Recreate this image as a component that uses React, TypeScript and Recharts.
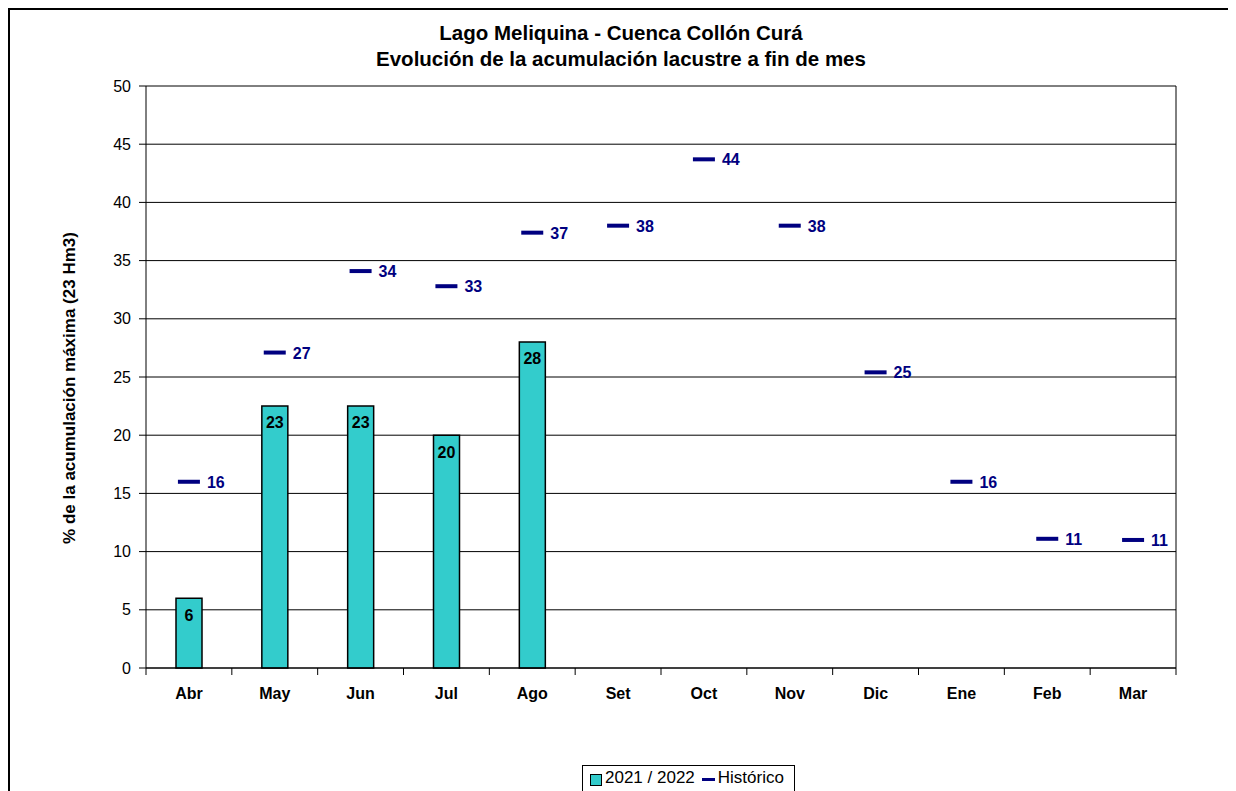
import React from 'react'
import { ComposedChart, Bar, Line, XAxis, YAxis, CartesianGrid, LabelList } from 'recharts'

const months = ['Abr', 'May', 'Jun', 'Jul', 'Ago', 'Set', 'Oct', 'Nov', 'Dic', 'Ene', 'Feb', 'Mar']
const season2122 = [6, 22.5, 22.5, 20, 28, null, null, null, null, null, null, null]
const historico = [16, 27.1, 34.1, 32.8, 37.4, 38, 43.7, 38, 25.4, 16, 11.1, 11]
const yTicks = [0, 5, 10, 15, 20, 25, 30, 35, 40, 45, 50]

const data = months.map((m, i) => ({ month: m, actual: season2122[i], hist: historico[i] }))

const FONT = '"Liberation Sans", Arial, sans-serif'
const CHART_W = 1226
const CHART_H = 781
const MARGIN = { top: 76, right: 60, bottom: 0, left: 0 }
const Y_W = 136
const BAND = (CHART_W - MARGIN.right - MARGIN.left - Y_W) / months.length

function MonthTick(props: any) {
  const { x, y, payload, index } = props
  const axisY = y - 17
  return (
    <g>
      <line x1={x - BAND / 2} x2={x - BAND / 2} y1={axisY} y2={axisY + 7} stroke="#000" />
      {index === months.length - 1 && (
        <line x1={x + BAND / 2} x2={x + BAND / 2} y1={axisY} y2={axisY + 7} stroke="#000" />
      )}
      <text x={x} y={y + 14} textAnchor="middle" fontFamily={FONT} fontSize={16} fontWeight="bold" fill="#000">
        {payload.value}
      </text>
    </g>
  )
}

function HistDash(props: any) {
  const { cx, cy, value } = props
  if (value == null || cx == null) return <g />
  return (
    <g>
      <rect x={cx - 11} y={cy - 2} width={22} height={4} fill="#000080" />
      <text x={cx + 18} y={cy + 6} fontFamily={FONT} fontSize={16} fontWeight="bold" fill="#000080">
        {Math.round(value)}
      </text>
    </g>
  )
}

export default function App() {
  return (
    <div
      style={{
        position: 'relative',
        width: 1260,
        height: 800,
        boxSizing: 'border-box',
        borderLeft: '2px solid #000',
        borderTop: '2px solid #000',
        fontFamily: FONT,
        background: '#fff',
        overflow: 'hidden',
      }}
    >
      <style>{'html,body{overflow:hidden}'}</style>
      <div style={{ position: 'absolute', left: 0, width: 1222, top: 10, textAlign: 'center', fontWeight: 'bold', fontSize: 20.5, lineHeight: '26px' }}>
        Lago Meliquina - Cuenca Collón Curá
        <br />
        Evolución de la acumulación lacustre a fin de mes
      </div>
      <div
        style={{
          position: 'absolute',
          left: 60,
          top: 378,
          transform: 'translate(-50%, -50%) rotate(-90deg)',
          whiteSpace: 'nowrap',
          fontWeight: 'bold',
          fontSize: 17,
        }}
      >
        % de la acumulación máxima (23 Hm3)
      </div>
      <ComposedChart width={CHART_W} height={CHART_H} data={data} margin={MARGIN} style={{ position: 'absolute', left: 0, top: 0 }}>
        <CartesianGrid
          stroke="#000"
          strokeWidth={1}
          verticalCoordinatesGenerator={({ offset }: any) => [offset.left + offset.width]}
        />
        <XAxis
          dataKey="month"
          height={123}
          axisLine={{ stroke: '#000' }}
          tickLine={false}
          tickSize={7}
          tickMargin={10}
          tick={<MonthTick />}
          interval={0}
        />
        <YAxis
          width={Y_W}
          domain={[0, 50]}
          ticks={yTicks}
          interval={0}
          axisLine={{ stroke: '#000' }}
          tickLine={{ stroke: '#000' }}
          tickSize={7}
          tickMargin={8}
          tick={{ fontFamily: FONT, fontSize: 16, fill: '#000' }}
        />
        <Bar dataKey="actual" barSize={26} fill="#33CCCC" stroke="#000" strokeWidth={1.5} isAnimationActive={false}>
          <LabelList
            dataKey="actual"
            position="insideTop"
            offset={11}
            formatter={(v: any) => (v == null ? '' : Math.round(v))}
            style={{ fontFamily: FONT, fontSize: 16, fontWeight: 'bold', fill: '#000' }}
          />
        </Bar>
        <Line dataKey="hist" stroke="none" dot={<HistDash />} activeDot={false} isAnimationActive={false} />
      </ComposedChart>
      <div
        style={{
          position: 'absolute',
          left: 572,
          top: 755,
          width: 213,
          height: 40,
          boxSizing: 'border-box',
          border: '1px solid #000',
          fontSize: 17,
          display: 'flex',
          alignItems: 'flex-start',
          paddingTop: 2,
          paddingLeft: 7,
        }}
      >
        <span style={{ display: 'inline-block', width: 10, height: 10, background: '#33CCCC', border: '1px solid #000', marginTop: 6, marginRight: 3 }} />
        <span>2021 / 2022</span>
        <span style={{ display: 'inline-block', width: 13, height: 3, background: '#000080', marginTop: 10, marginLeft: 7, marginRight: 3 }} />
        <span>Histórico</span>
      </div>
    </div>
  )
}
